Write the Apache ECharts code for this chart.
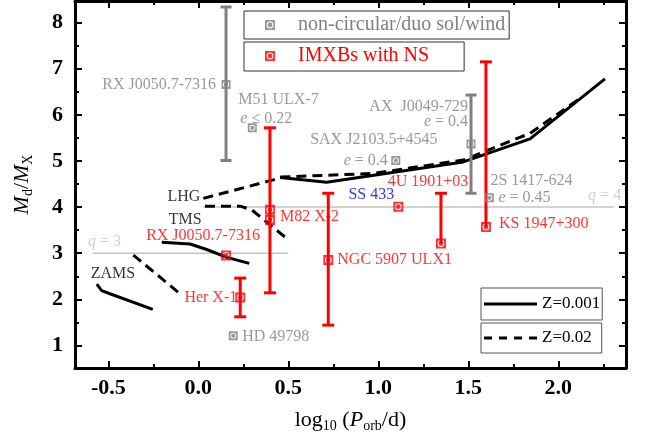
<!DOCTYPE html>
<html><head><meta charset="utf-8">
<script src="https://cdn.jsdelivr.net/npm/echarts@6/dist/echarts.min.js"></script>
<style>html,body{margin:0;padding:0;background:#fff}#c{width:651px;height:442px}</style>
</head><body><div id="c"></div>
<script>
// ---------------- data ----------------
const xMajorTicks = [-0.5, 0, 0.5, 1.0, 1.5, 2.0];
const xMinorTicks = [-0.25, 0.25, 0.75, 1.25, 1.75, 2.25];
const yMajorTicks = [1, 2, 3, 4, 5, 6, 7, 8];
const yMinorTicks = [1.5, 2.5, 3.5, 4.5, 5.5, 6.5, 7.5];

// non-circular / duo sol / wind (grey)
const greyNames = ['RX J0050.7-7316', 'M51 ULX-7', 'SAX J2103.5+4545', 'AX J0049-729', '2S 1417-624', 'HD 49798'];
const greyX  = [0.154, 0.300, 1.097, 1.515, 1.617, 0.194];
const greyY  = [6.66, 5.72, 5.01, 5.37, 4.20, 1.21];
const greyLo = [5.01, null, null, 4.30, null, null];
const greyHi = [8.34, null, null, 6.43, null, null];

// IMXBs with NS (red)
const redNames = ['RX J0050.7-7316', 'Her X-1', 'M82 X-2', 'M82 X-2 b', 'NGC 5907 ULX1', 'SS 433', '4U 1901+03', 'KS 1947+300'];
const redX  = [0.154, 0.233, 0.398, 0.398, 0.722, 1.111, 1.348, 1.598];
const redY  = [2.95, 2.04, 3.94, 3.72, 2.85, 4.01, 3.21, 3.57];
const redLo = [null, 1.62, 2.14, null, 1.44, null, 3.21, 3.57];
const redHi = [null, 2.46, 5.72, null, 4.30, null, 4.30, 7.15];

// Z = 0.001 tracks (solid)
const z001ZamsX = [-0.564, -0.537, -0.491, -0.253];
const z001ZamsY = [2.33, 2.19, 2.12, 1.78];
const z001TmsX  = [-0.203, -0.046, 0.047, 0.158, 0.283];
const z001TmsY  = [3.24, 3.20, 3.08, 2.91, 2.78];
const z001LhgX  = [0.454, 0.713, 1.472, 1.843, 2.259];
const z001LhgY  = [4.64, 4.54, 4.98, 5.48, 6.78];
// Z = 0.02 tracks (dashed)
const z02ZamsX = [-0.361, -0.092];
const z02ZamsY = [2.96, 2.09];
const z02TmsX  = [0.037, 0.232, 0.297, 0.491];
const z02TmsY  = [4.02, 4.02, 3.94, 3.32];
const z02LhgX  = [0.028, 0.417, 0.454, 0.971, 1.472, 1.843, 2.121];
const z02LhgY  = [4.19, 4.59, 4.65, 4.73, 5.02, 5.60, 6.36];

// mass-ratio reference lines
const qLevels = [3, 4];
const qStartX = [-0.585, 0.027];
const qEndX   = [0.50, 2.31];

// ---------------- helpers ----------------
const FONT = 'Liberation Serif';
const GREY = '#808080', RED = '#ff0000', BLUE = '#0000ff', LGREY = '#c4c4c4';
const markerPath = 'path://M0 0L10 0L10 10L0 10Z M1.6 5A3.4 3.4 0 1 0 8.4 5A3.4 3.4 0 1 0 1.6 5Z M2.6 5A2.4 2.4 0 1 1 7.4 5A2.4 2.4 0 1 1 2.6 5Z';
const solidIcon = 'path://M0 0L53 0L53 3L0 3Z';
const dashIcon = 'path://M0 0H8V3H0Z M15 0H23V3H15Z M30 0H38V3H30Z M45 0H53V3H45Z';
const zip = (xs, ys) => xs.map((x, i) => [x, ys[i]]);

function errData(xs, ys, lo, hi) {
  const out = [];
  xs.forEach((x, i) => { if (lo[i] !== null) out.push([x, lo[i], hi[i], ys[i]]); });
  return out;
}
function errRender(color, capW) {
  return function (params, api) {
    const x = api.value(0), lo = api.value(1), hi = api.value(2), y = api.value(3);
    const pLo = api.coord([x, lo]), pHi = api.coord([x, hi]);
    const st = { stroke: color, lineWidth: 3 };
    const ch = [{ type: 'line', shape: { x1: pLo[0], y1: pLo[1], x2: pHi[0], y2: pHi[1] }, style: st }];
    if (hi > y) ch.push({ type: 'line', shape: { x1: pHi[0] - capW / 2, y1: pHi[1], x2: pHi[0] + capW / 2, y2: pHi[1] }, style: st });
    if (lo < y) ch.push({ type: 'line', shape: { x1: pLo[0] - capW / 2, y1: pLo[1], x2: pLo[0] + capW / 2, y2: pLo[1] }, style: st });
    return { type: 'group', children: ch };
  };
}

const grey = zip(greyX, greyY), red = zip(redX, redY);
const pts = {
  g: grey, r: red,
  zams: zip(z001ZamsX, z001ZamsY), tms: zip(z001TmsX, z001TmsY), lhg: zip(z02LhgX, z02LhgY),
  q3: [[qStartX[0], qLevels[0]]], q4: [[qEndX[1], qLevels[1]]]
};
// [point set, index, text, align, dx, dy, color]
const labelDefs = [
  ['g', 0, 'RX J0050.7-7316', 'right', -10, 0, GREY],
  ['g', 1, 'M51 ULX-7', 'left', -14, -28, GREY],
  ['g', 1, '{i|e} ≤ 0.22', 'left', -12, -9, GREY],
  ['g', 2, 'SAX J2103.5+4545', 'center', -22, -21, GREY],
  ['g', 2, '{i|e} = 0.4', 'right', -8, 0, GREY],
  ['g', 3, 'AX  J0049-729', 'right', -3, -37, GREY],
  ['g', 3, '{i|e} = 0.4', 'right', -3, -22, GREY],
  ['g', 4, '2S 1417-624', 'left', 1, -17, GREY],
  ['g', 4, '{i|e} = 0.45', 'left', 9, 0, GREY],
  ['g', 5, 'HD 49798', 'left', 9, 1, GREY],
  ['r', 0, 'RX J0050.7-7316', 'center', -23, -20, RED],
  ['r', 1, 'Her X-1', 'right', -3, 0, RED],
  ['r', 2, 'M82 X-2', 'left', 10, 7, RED],
  ['r', 4, 'NGC 5907 ULX1', 'left', 9, 0, RED],
  ['r', 5, 'SS 433', 'center', -27, -12, BLUE],
  ['r', 6, '4U 1901+03', 'center', -13, -62, RED],
  ['r', 7, 'KS 1947+300', 'left', 13, -3, RED],
  ['zams', 0, 'ZAMS', 'left', -6, -10, '#000'],
  ['tms', 0, 'TMS', 'left', 7, -22, '#000'],
  ['lhg', 0, 'LHG', 'right', -3, -2, '#000'],
  ['q3', 0, '{i|q} = 3', 'left', -5, -11, LGREY],
  ['q4', 0, '{i|q} = 4', 'left', -26, -11, LGREY]
];
const labelData = labelDefs.map(d => ({
  value: pts[d[0]][d[1]],
  label: {
    show: true, position: 'inside', formatter: d[2], align: d[3], verticalAlign: 'middle',
    offset: [d[4], d[5]], color: d[6], fontFamily: FONT, fontSize: 16,
    rich: { i: { fontStyle: 'italic', color: d[6], fontFamily: FONT, fontSize: 16 } }
  }
}));

// ---------------- axes ----------------
const X_MIN = -0.685, X_MAX = 2.376, Y_MIN = 0.51, Y_MAX = 8.47;
const lineSt = { color: '#000', width: 3 };
function xAx(pos, major, showLine, extra) {
  return Object.assign({
    type: 'value', gridIndex: 0, position: pos, min: X_MIN, max: X_MAX, splitLine: { show: false },
    axisLine: { show: showLine, onZero: false, lineStyle: lineSt },
    axisTick: { show: true, inside: true, length: major ? 7 : 4, customValues: major ? xMajorTicks : xMinorTicks, lineStyle: { color: '#000', width: 2 } },
    axisLabel: { show: false }
  }, extra || {});
}
function yAx(pos, major, showLine, extra) {
  return Object.assign({
    type: 'value', gridIndex: 0, position: pos, min: Y_MIN, max: Y_MAX, splitLine: { show: false },
    axisLine: { show: showLine, onZero: false, lineStyle: lineSt },
    axisTick: { show: true, inside: true, length: major ? 7 : 4, customValues: major ? yMajorTicks : yMinorTicks, lineStyle: { color: '#000', width: 2 } },
    axisLabel: { show: false }
  }, extra || {});
}
const subRich = {
  n: { fontFamily: FONT, fontSize: 22, color: '#000', lineHeight: 30 },
  i: { fontFamily: FONT, fontSize: 22, color: '#000', fontStyle: 'italic', lineHeight: 30 },
  s: { fontFamily: FONT, fontSize: 14, color: '#000', lineHeight: 14, padding: [12, 0, 0, 0] }
};

const option = {
  animation: false,
  backgroundColor: '#fff',
  grid: { left: 75, right: 25, top: 1, bottom: 74 },
  xAxis: [
    xAx('bottom', true, true, {
      axisLabel: { show: true, customValues: xMajorTicks, formatter: v => v.toFixed(1), fontFamily: FONT, fontSize: 22, fontWeight: 'bold', color: '#000', margin: 9 },
      name: '{n|log}{s|10}{n| (}{i|P}{s|orb}{n|/d)}', nameLocation: 'middle', nameGap: 37,
      nameTextStyle: { rich: subRich }
    }),
    xAx('bottom', false, false),
    xAx('top', true, true),
    xAx('top', false, false)
  ],
  yAxis: [
    yAx('left', true, true, {
      axisLabel: { show: true, customValues: yMajorTicks, formatter: v => String(v), fontFamily: FONT, fontSize: 22, fontWeight: 'bold', color: '#000', margin: 12 },
      name: '{i|M}{s|d}{n|/}{i|M}{s|X}', nameLocation: 'middle', nameGap: 38, nameRotate: 90,
      nameTextStyle: { rich: subRich }
    }),
    yAx('left', false, false),
    yAx('right', true, true),
    yAx('right', false, false)
  ],
  legend: [
    { data: [{ name: 'non-circular/duo sol/wind', icon: markerPath }], left: 244, top: 11, padding: [4, 4, 4, 21],
      itemWidth: 10, itemHeight: 10, borderColor: '#333', borderWidth: 1, selectedMode: false,
      textStyle: { color: GREY, fontFamily: FONT, fontSize: 20, lineHeight: 20, padding: [0, 0, 0, 18] } },
    { data: [{ name: 'IMXBs with NS', icon: markerPath }], left: 244, top: 42, padding: [4, 35, 5, 21],
      itemWidth: 10, itemHeight: 10, borderColor: '#333', borderWidth: 1, selectedMode: false,
      textStyle: { color: RED, fontFamily: FONT, fontSize: 20, lineHeight: 20, padding: [0, 0, 0, 18] } },
    { data: [{ name: 'Z=0.001', icon: solidIcon }], left: 481, top: 288, padding: [6, 2, 6, 3], itemWidth: 53, itemHeight: 3,
      borderColor: '#555', borderWidth: 1, selectedMode: false, itemStyle: { color: '#000' },
      textStyle: { color: '#000', fontFamily: FONT, fontSize: 17, lineHeight: 20 } },
    { data: [{ name: 'Z=0.02', icon: dashIcon }], left: 481, top: 323, padding: [5, 10, 5, 3], itemWidth: 53, itemHeight: 3,
      borderColor: '#555', borderWidth: 1, selectedMode: false, itemStyle: { color: '#000' },
      textStyle: { color: '#000', fontFamily: FONT, fontSize: 17, lineHeight: 20 } }
  ],
  series: [
    // q reference lines
    ...qLevels.map((q, i) => ({ type: 'line', name: 'q' + q, silent: true, symbol: 'none', z: 1,
      data: [[qStartX[i], q], [qEndX[i], q]], lineStyle: { color: LGREY, width: 1.5 } })),
    // evolutionary tracks
    ...[[z001ZamsX, z001ZamsY], [z001TmsX, z001TmsY], [z001LhgX, z001LhgY]].map(t => ({
      type: 'line', name: 'Z=0.001', symbol: 'none', silent: true, z: 2, data: zip(t[0], t[1]),
      lineStyle: { color: '#000', width: 3, type: 'solid' }, itemStyle: { color: '#000' } })),
    ...[[z02ZamsX, z02ZamsY], [z02TmsX, z02TmsY], [z02LhgX, z02LhgY]].map(t => ({
      type: 'line', name: 'Z=0.02', symbol: 'none', silent: true, z: 2, data: zip(t[0], t[1]),
      lineStyle: { color: '#000', width: 3, type: [10, 6] }, itemStyle: { color: '#000' } })),
    // labels
    { type: 'scatter', name: 'labels', silent: true, z: 3, symbolSize: 1, itemStyle: { color: 'rgba(0,0,0,0)' }, data: labelData },
    // error bars
    { type: 'custom', name: 'greyErr', silent: true, z: 4, renderItem: errRender(GREY, 11), data: errData(greyX, greyY, greyLo, greyHi) },
    { type: 'custom', name: 'redErr', silent: true, z: 4, renderItem: errRender(RED, 12), data: errData(redX, redY, redLo, redHi) },
    // markers
    { type: 'scatter', name: 'non-circular/duo sol/wind', symbol: markerPath, symbolSize: 9, z: 5, itemStyle: { color: GREY }, data: grey },
    { type: 'scatter', name: 'IMXBs with NS', symbol: markerPath, symbolSize: 10, z: 5, itemStyle: { color: RED }, data: red }
  ]
};
const chart = echarts.init(document.getElementById('c'));
chart.setOption(option);
</script>
</body></html>
